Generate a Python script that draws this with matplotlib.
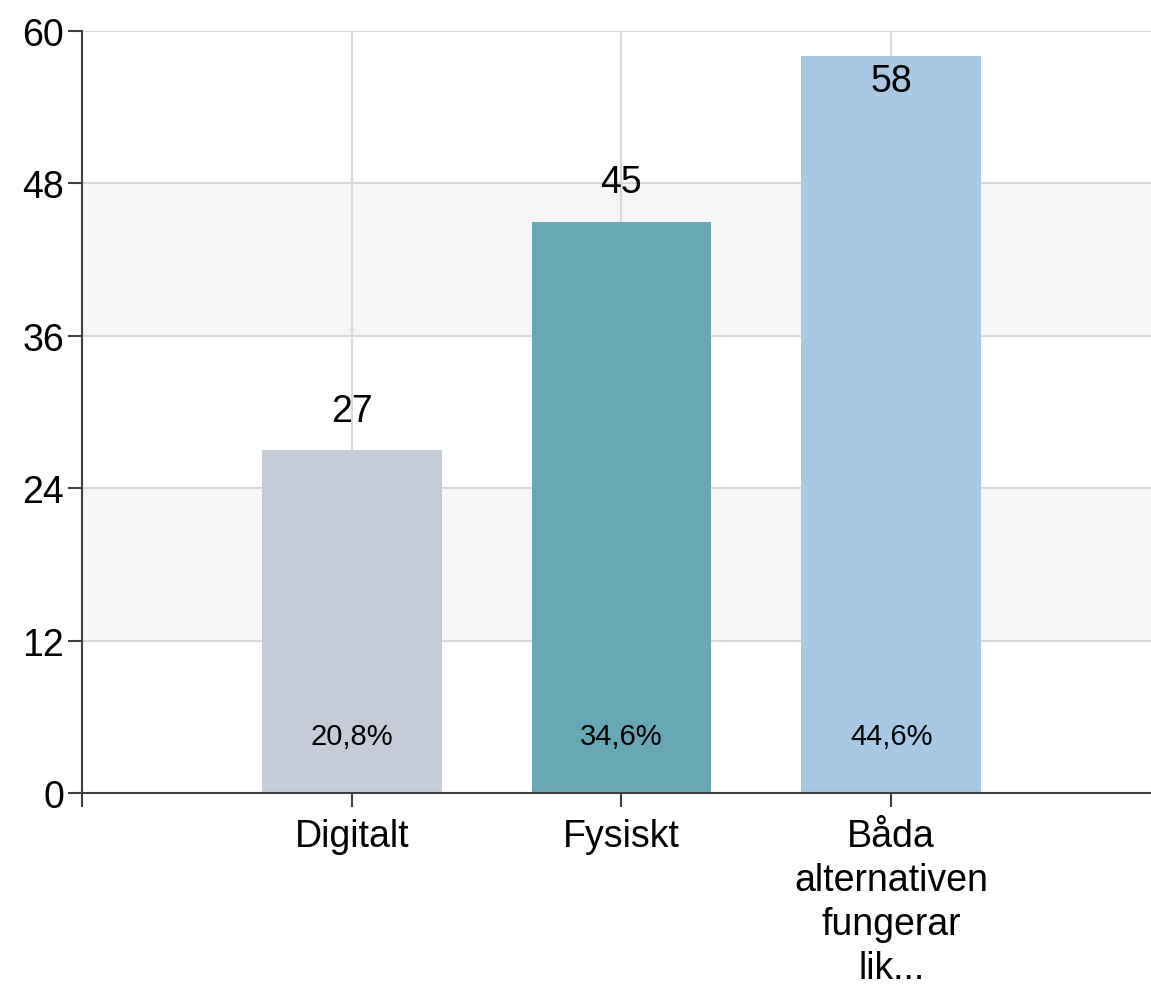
import numpy as np
import matplotlib
matplotlib.use("Agg")
import matplotlib.pyplot as plt

plt.rcParams['font.family'] = ['Liberation Sans', 'DejaVu Sans']

kategorier = ["Digitalt", "Fysiskt", "Båda\nalternativen\nfungerar\nlik..."]
antal = [27, 45, 58]
procent = ["20,8%", "34,6%", "44,6%"]
farger = ["#c5ccd8", "#68a8b5", "#a8c8e4"]
yticks = [0, 12, 24, 36, 48, 60]

fig = plt.figure(figsize=(11.51, 9.87), dpi=100)
ax = fig.add_axes([82/1151, (987-794)/987, 1-82/1151, (794-32)/987])

x = np.arange(len(kategorier))

# randiga band
for lo in [12, 36]:
    ax.axhspan(lo, lo+12, color="#f6f6f6", zorder=0, lw=0)
for y in yticks[1:]:
    ax.axhline(y, color="#d9d9d9", lw=1.5, zorder=1)
for xi in x:
    ax.axvline(xi, color="#d9d9d9", lw=1.5, zorder=1)

ax.bar(x, antal, width=0.667, color=farger, zorder=2)

for xi, v, p in zip(x, antal, procent):
    if v + 5 > 60:
        ax.text(xi, v - 1.9, str(v), ha="center", va="center", fontsize=27, zorder=3)
    else:
        ax.text(xi, v + 3.1, str(v), ha="center", va="center", fontsize=27, zorder=3)
    ax.text(xi, 4.5, p, ha="center", va="center", fontsize=21, zorder=3)

ax.set_xlim(-1, 2.963)
ax.set_ylim(0, 60)
ax.set_yticks(yticks)
ax.set_yticklabels([str(t) for t in yticks], fontsize=27)
ax.set_xticks([-1, 0, 1, 2])
ax.set_xticklabels([""] + kategorier, fontsize=27, linespacing=1.28, va="top")

for s in ["top", "right"]:
    ax.spines[s].set_visible(False)
ax.spines["left"].set_color("#404040")
ax.spines["bottom"].set_color("#404040")
ax.spines["left"].set_linewidth(1.5)
ax.spines["bottom"].set_linewidth(1.5)
ax.tick_params(axis="y", length=10, width=1.5, color="#404040", pad=3)
ax.tick_params(axis="x", length=10, width=1.5, color="#404040", pad=8)

fig.savefig("out.png", dpi=100)
